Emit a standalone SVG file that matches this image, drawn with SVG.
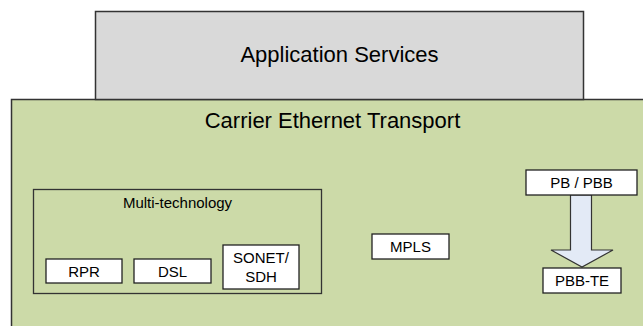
<svg xmlns="http://www.w3.org/2000/svg" width="643" height="326" viewBox="0 0 643 326">
<style>
text{font-family:"Liberation Sans",Arial,sans-serif;fill:#000;text-anchor:middle}
.big{font-size:22px}
.sm{font-size:15px}
.box{fill:#fff;stroke:#222;stroke-width:1.3}
</style>
<rect width="643" height="326" fill="#fff"/>
<g id="carrier-ethernet-transport">
<rect x="11.5" y="99.5" width="700" height="300" fill="#ccdaa8" stroke="#333" stroke-width="1.5"/>
<text class="big" x="332.5" y="128">Carrier Ethernet Transport</text>
</g>
<g id="application-services">
<rect x="95.5" y="11.5" width="488" height="88" fill="#d9d9d9" stroke="#333" stroke-width="1.5"/>
<text class="big" x="339.5" y="62">Application Services</text>
</g>
<g id="multi-technology">
<rect x="33.5" y="189.5" width="288" height="104" fill="none" stroke="#333" stroke-width="1.3"/>
<text class="sm" x="177.5" y="208">Multi-technology</text>
</g>
<g id="rpr">
<rect class="box" x="46" y="259" width="76" height="24"/>
<text class="sm" x="84" y="277">RPR</text>
</g>
<g id="dsl">
<rect class="box" x="134" y="259" width="77" height="24"/>
<text class="sm" x="172.5" y="277">DSL</text>
</g>
<g id="sonet-sdh">
<rect class="box" x="223" y="245" width="76" height="44"/>
<text class="sm" x="261" y="263">SONET/</text>
<text class="sm" x="261" y="282">SDH</text>
</g>
<g id="mpls">
<rect class="box" x="372" y="234" width="77" height="25"/>
<text class="sm" x="410.5" y="252">MPLS</text>
</g>
<g id="connectors">
<polygon points="570.5,195 591.5,195 591.5,250 613,250 582,267 551,250 570.5,250" fill="#e3eaf6" stroke="#333" stroke-width="1.2"/>
</g>
<g id="pb-pbb">
<rect class="box" x="526" y="170" width="111" height="25"/>
<text class="sm" x="581.5" y="188">PB / PBB</text>
</g>
<g id="pbb-te">
<rect class="box" x="543" y="268" width="78" height="25"/>
<text class="sm" x="582" y="286">PBB-TE</text>
</g>
</svg>
